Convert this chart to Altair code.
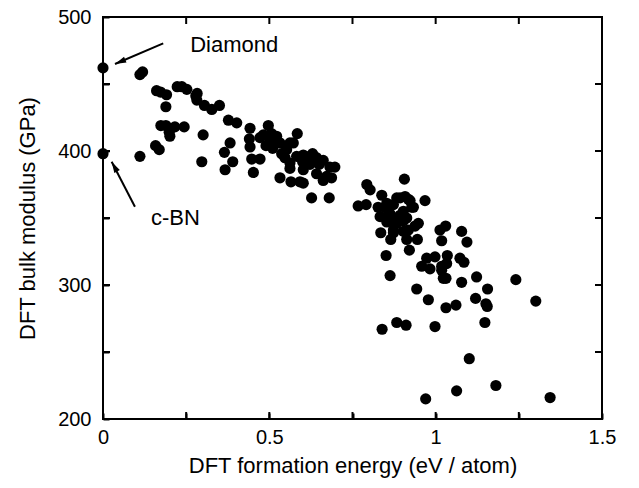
import altair as alt
import pandas as pd

# formation energy (eV/atom) and bulk modulus (GPa)
energy = [
    0.0, 0.0,
    0.111, 0.119, 0.161, 0.173, 0.191, 0.189, 0.223, 0.237, 0.252,
    0.279, 0.283, 0.282, 0.305, 0.327, 0.350,
    0.174, 0.189, 0.216, 0.244, 0.201, 0.199, 0.158, 0.169, 0.111,
    0.301, 0.297, 0.377, 0.402, 0.382, 0.365, 0.390, 0.367,
    0.442, 0.440, 0.442, 0.447, 0.452, 0.472,
    0.497, 0.507, 0.482, 0.522, 0.532, 0.502, 0.472,
    0.584, 0.562, 0.552, 0.572, 0.532, 0.565,
    0.537, 0.547, 0.562, 0.582, 0.602, 0.622, 0.642, 0.662, 0.682, 0.697,
    0.672, 0.642, 0.622, 0.602, 0.592, 0.562, 0.687, 0.662, 0.602,
    0.627, 0.680, 0.490, 0.510, 0.600, 0.650, 0.630,
    0.906, 0.793, 0.803, 0.968, 0.767, 0.791,
    0.838, 0.827, 0.853, 0.883, 0.908, 0.923, 0.933,
    0.833, 0.863, 0.893, 0.913, 0.853, 0.883, 0.948, 0.938, 0.918, 0.873,
    0.835, 0.865, 0.913, 0.945, 0.873, 0.903,
    0.848, 0.873, 0.893, 0.918, 0.928, 0.903, 0.858, 0.868, 0.903,
    1.013, 1.030, 1.018, 1.078, 1.094,
    0.851, 0.921, 0.863,
    0.973, 0.998, 1.035, 0.958, 0.983, 1.018, 1.033, 1.018, 1.023, 1.031,
    1.073, 1.085, 1.123, 1.078, 1.241, 0.943, 1.156, 0.978,
    1.120, 1.151, 1.155, 1.031, 1.061, 1.301, 1.148,
    0.839, 0.883, 0.911, 0.998, 1.101,
    0.970, 1.063, 1.181, 1.344,
]
modulus = [
    462, 398,
    457, 459, 445, 444, 442, 433, 448, 448, 446,
    441, 443, 438, 434, 431, 434,
    419, 419, 418, 418, 411, 414, 404, 401, 396,
    412, 392, 423, 421, 406, 399, 392, 386,
    417, 409, 403, 394, 384, 394,
    419, 413, 412, 411, 406, 407, 410,
    413, 406, 401, 406, 380, 377,
    398, 395, 391, 396, 397, 396, 395, 393, 388, 388,
    381, 383, 390, 386, 377, 387, 380, 378, 376,
    365, 365, 404, 402, 392, 390, 398,
    379, 375, 371, 363, 359, 360,
    367, 358, 361, 365, 366, 363, 358,
    351, 353, 352, 350, 347, 346, 346, 344, 341, 341,
    339, 334, 334, 334, 339, 340,
    358, 360, 365, 364, 358, 355, 353, 348, 348,
    341, 344, 333, 340, 332,
    322, 326, 307,
    320, 321, 322, 314, 312, 314, 316, 311, 305, 305,
    320, 317, 306, 302, 304, 297, 297, 289,
    290, 286, 284, 283, 285, 288, 272,
    267, 272, 270, 269, 245,
    215, 221, 225, 216,
]

x_ticks = [0, 0.25, 0.5, 0.75, 1.0, 1.25, 1.5]
y_ticks = [200, 250, 300, 350, 400, 450, 500]

labels = ["Diamond", "c-BN"]
label_x = [0.262, 0.144]
label_y = [479, 350]

arrow_x = [0.181, 0.096]
arrow_y = [480.3, 358.4]
arrow_x2 = [0.036, 0.026]
arrow_y2 = [464.9, 392.0]
arrow_angle = [247, 331]

W, H = 499, 402
TICK = 6
TLEN = 7

df = pd.DataFrame({"x": energy, "y": modulus})
ann = pd.DataFrame({"label": labels, "x": label_x, "y": label_y})
arr = pd.DataFrame({"x": arrow_x, "y": arrow_y, "x2": arrow_x2, "y2": arrow_y2,
                    "angle": arrow_angle})
xt = pd.DataFrame({"v": x_ticks})
yt = pd.DataFrame({"v": y_ticks})

FONT = "Liberation Sans"
xs = alt.Scale(domain=[0, 1.5], nice=False, zero=False)
ys = alt.Scale(domain=[200, 500], nice=False, zero=False)

common = dict(domain=False, grid=False, offset=-TICK, tickSize=TICK, ticks=True,
              tickColor="black", tickWidth=2, labelColor="#000000", labelFont=FONT,
              labelFontSize=20, labelFlush=False, titleFont=FONT, titleFontSize=22,
              titleColor="#000000", titleFontWeight="normal")

points = alt.Chart(df).mark_circle(size=125, color="black", opacity=1).encode(
    x=alt.X("x:Q", scale=xs, axis=alt.Axis(
        values=x_ticks, title="DFT formation energy (eV / atom)",
        labelExpr="datum.value % 0.5 === 0 ? '' + datum.value : ''",
        labelPadding=8, titlePadding=8, **common)),
    y=alt.Y("y:Q", scale=ys, axis=alt.Axis(
        values=y_ticks, title="DFT bulk modulus (GPa)",
        labelExpr="datum.value % 100 === 0 ? '' + datum.value : ''",
        labelPadding=12, titlePadding=18, **common)),
)

# inward ticks on all four sides, placed by the scales from the tick arrays
tick_style = dict(color="black", strokeWidth=2)
xb = alt.Chart(xt).mark_rule(**tick_style).encode(
    x=alt.X("v:Q", scale=xs, axis=None), y=alt.value(H), y2=alt.value(H - TLEN))
xtop = alt.Chart(xt).mark_rule(**tick_style).encode(
    x=alt.X("v:Q", scale=xs, axis=None), y=alt.value(0), y2=alt.value(TLEN))
yl = alt.Chart(yt).mark_rule(**tick_style).encode(
    y=alt.Y("v:Q", scale=ys, axis=None), x=alt.value(0), x2=alt.value(TLEN))
yr = alt.Chart(yt).mark_rule(**tick_style).encode(
    y=alt.Y("v:Q", scale=ys, axis=None), x=alt.value(W), x2=alt.value(W - TLEN))

lines = alt.Chart(arr).mark_rule(color="black", strokeWidth=2).encode(
    x=alt.X("x:Q", scale=xs, axis=None), y=alt.Y("y:Q", scale=ys, axis=None),
    x2="x2:Q", y2="y2:Q",
)

heads = alt.Chart(arr).mark_point(
    shape="M0,0 L-0.28,1 L0.28,1 Z", filled=True, color="black", opacity=1, size=500
).encode(
    x=alt.X("x2:Q", scale=xs, axis=None), y=alt.Y("y2:Q", scale=ys, axis=None),
    angle=alt.Angle("angle:Q", scale=None),
)

texts = alt.Chart(ann).mark_text(align="left", baseline="middle", font=FONT,
                                 fontSize=22, color="black").encode(
    x=alt.X("x:Q", scale=xs, axis=None), y=alt.Y("y:Q", scale=ys, axis=None),
    text="label:N",
)

chart = alt.layer(points, xb, xtop, yl, yr, lines, heads, texts).resolve_axis(
    x="independent", y="independent"
).properties(
    width=W, height=H,
    autosize=alt.AutoSizeParams(type="none"),
    padding={"left": 103, "top": 17, "right": 37, "bottom": 69},
    background="white",
).configure_view(stroke="black", strokeWidth=2)

chart.save("out.html", embed_options={"renderer": "svg", "actions": False})
